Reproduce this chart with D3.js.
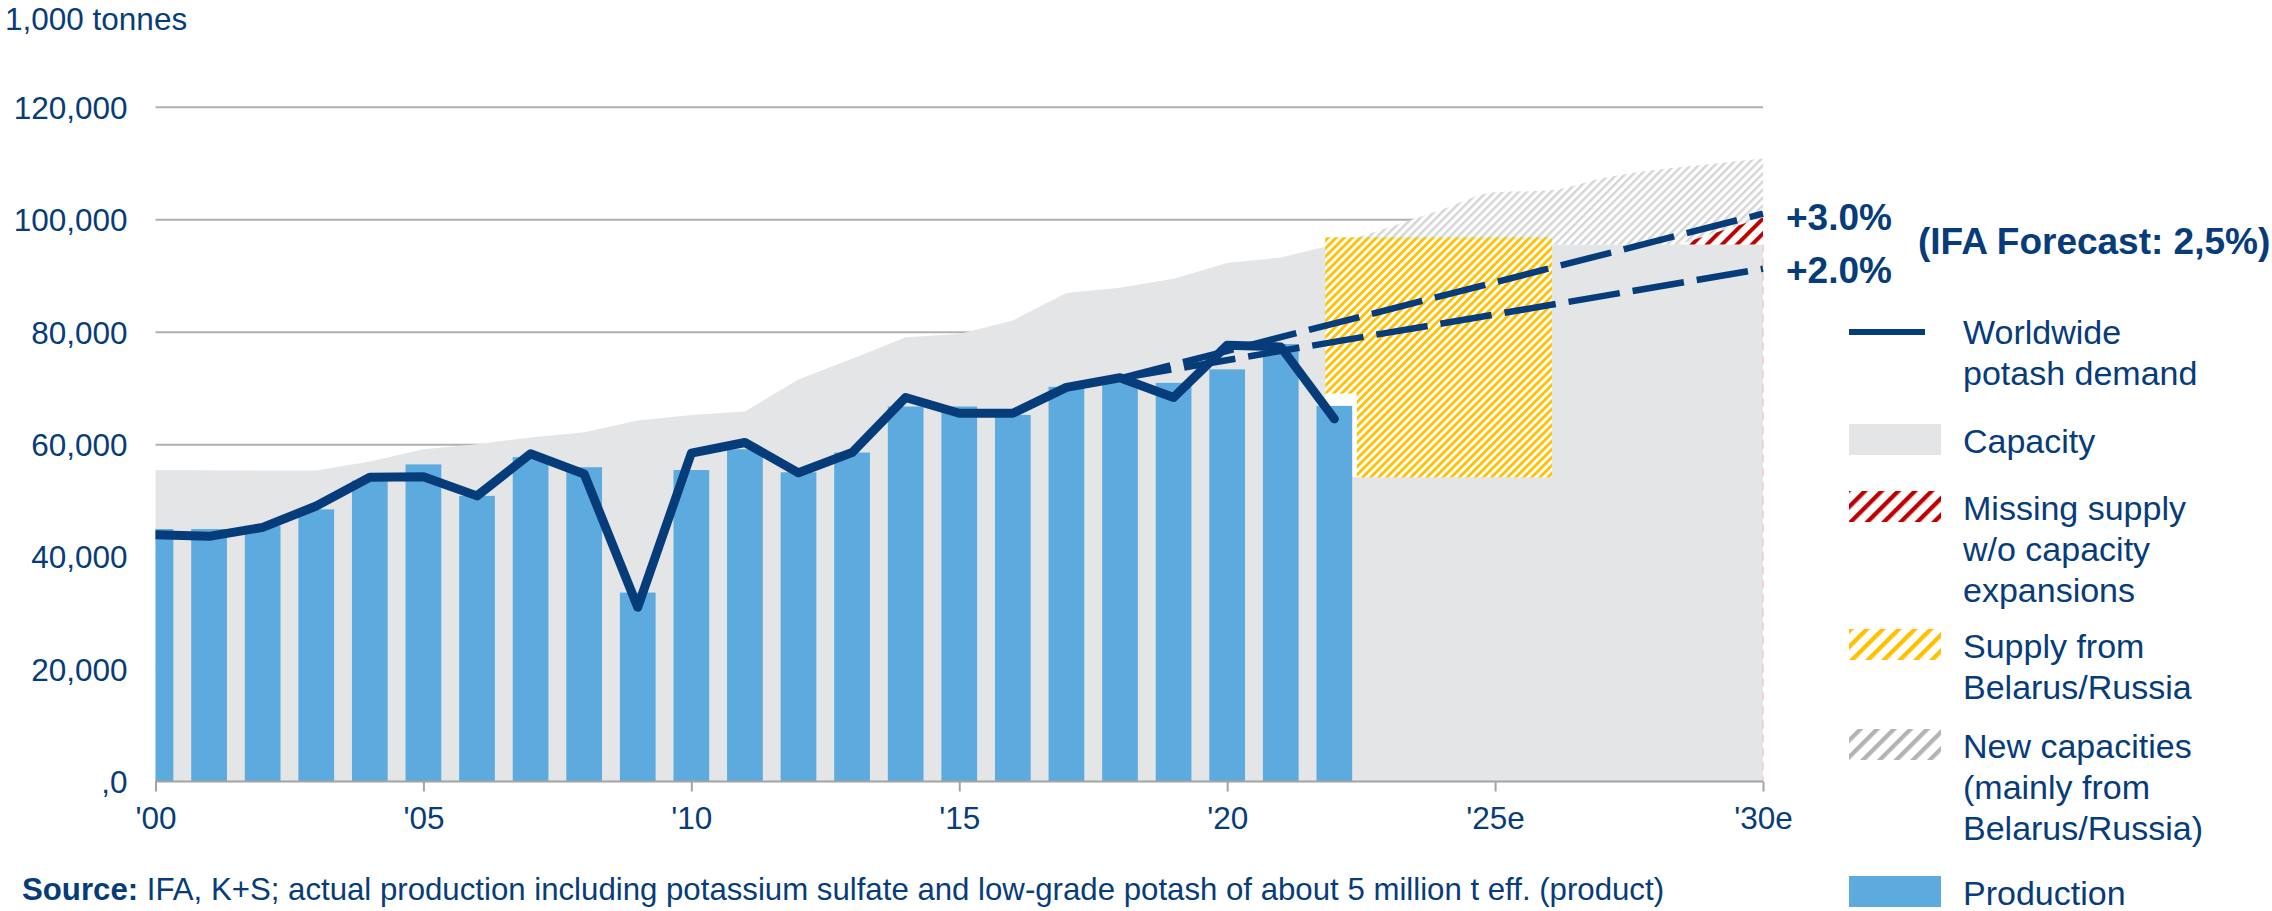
<!DOCTYPE html>
<html>
<head>
<meta charset="utf-8">
<script src="https://cdn.jsdelivr.net/npm/d3@7"></script>
<style>
  html, body { margin: 0; padding: 0; background: #ffffff; }
  svg { display: block; font-family: "Liberation Sans", Arial, sans-serif; }
</style>
</head>
<body>
<svg id="chart" width="2272" height="911"></svg>
<script>
// ---------------- DATA ----------------
const years = d3.range(2000, 2023);
const production = [44900, 44900, 45500, 48400, 53500, 56400, 50800, 57700, 55900, 33600, 55400,
                    59100, 55000, 58500, 66700, 66700, 65200, 70200, 71300, 70900, 73300, 77800, 66800];
const demand = [43900, 43600, 45200, 49000, 54100, 54200, 50800, 58300, 54700, 31000, 58400,
                60300, 54900, 58500, 68300, 65500, 65500, 70100, 71800, 68300, 77600, 77300, 64500];

const capacityYears = d3.range(2000, 2031);
const capacity = [55400, 55350, 55300, 55300, 56900, 59100, 60000, 61200, 62100, 64200, 65200,
                  65800, 71500, 75200, 79000, 79600, 82000, 86900, 87800, 89400, 92200, 93200,
                  95500, 95500, 95500, 95500, 95500, 95500, 95500, 95500, 95500];

const newCapYears = [2022, 2023, 2024, 2025, 2026, 2027, 2028, 2029, 2030];
const newCapBase  = [95500, 95500, 95500, 95500, 95500, 95500, 95500, 95500, 95500];
const newCapTop   = [95500, 98500, 101700, 104800, 105100, 107300, 108800, 109800, 110800];

const missingYears = [2028.43, 2030];
const missingLow   = [95500, 95500];
const missingHigh  = [95500, 100300];

const belarusYears = [2021.83, 2026.06];
const belarusRange = [54100, 96800];
const whitePatchYears = [2021.83, 2022.42];
const whitePatchRange = [54100, 69000];

const forecastYears = [2018, 2030];
const forecast3 = [71700, 101000];
const forecast2 = [71700, 91200];
const forecastLabels = ["+3.0%", "+2.0%"];
const ifaLabel = "(IFA Forecast: 2,5%)";

const yTickValues = [0, 20000, 40000, 60000, 80000, 100000, 120000];
const yTickLabels = [",0", "20,000", "40,000", "60,000", "80,000", "100,000", "120,000"];
const xTickValues = [2000, 2005, 2010, 2015, 2020, 2025, 2030];
const xTickLabels = ["'00", "'05", "'10", "'15", "'20", "'25e", "'30e"];

const unitLabel = "1,000 tonnes";
const sourceBold = "Source:";
const sourceText = " IFA, K+S; actual production including potassium sulfate and low-grade potash of about 5 million t eff. (product)";

const legendItems = [
  { key: "line",    lines: ["Worldwide", "potash demand"] },
  { key: "cap",     lines: ["Capacity"] },
  { key: "red",     lines: ["Missing supply", "w/o capacity", "expansions"] },
  { key: "yellow",  lines: ["Supply from", "Belarus/Russia"] },
  { key: "gray",    lines: ["New capacities", "(mainly from", "Belarus/Russia)"] },
  { key: "prod",    lines: ["Production"] }
];

// ---------------- STYLE ----------------
const NAVY = "#073C7A";
const BAR = "#5DABDE";
const CAP = "#E4E5E7";
const GRID = "#B0B0B0";
const YELLOW = "#FFC000";
const RED = "#C00000";

const svg = d3.select("#chart");
const x = d3.scaleLinear().domain([2000, 2030]).range([155.5, 1763]);
const y = d3.scaleLinear().domain([0, 120000]).range([781.5, 106.8]);
const step = x(2001) - x(2000);
const barW = step * 2 / 3;

// ---------------- PATTERNS ----------------
const defs = svg.append("defs");
function hatch(id, period, stripe, color) {
  const p = defs.append("pattern")
    .attr("id", id)
    .attr("patternUnits", "userSpaceOnUse")
    .attr("width", period).attr("height", period)
    .attr("patternTransform", "rotate(45)");
  p.append("rect").attr("width", period).attr("height", period).attr("fill", "#fff");
  p.append("rect").attr("x", 0).attr("y", 0).attr("width", stripe).attr("height", period).attr("fill", color);
}
hatch("hYellow", 5.7, 2.8, YELLOW);
hatch("hGray", 5.7, 2.4, "#D4D4D4");
hatch("hRed", 10.6, 4, RED);
hatch("lgRed", 11.8, 4.3, RED);
hatch("lgYellow", 11.3, 4.3, YELLOW);
hatch("lgGray", 11.8, 4.3, "#B3B3B3");

defs.append("clipPath").attr("id", "plotClip")
  .append("rect").attr("x", x(2000)).attr("y", 0).attr("width", x(2030) - x(2000)).attr("height", 800);

// ---------------- GRIDLINES ----------------
svg.append("g")
  .attr("transform", `translate(${x(2000)},0)`)
  .call(d3.axisRight(y).tickValues(yTickValues.filter(v => v > 0)).tickSize(x(2030) - x(2000)).tickFormat(""))
  .call(g => g.select(".domain").remove())
  .call(g => g.selectAll(".tick line").attr("stroke", GRID).attr("stroke-width", 2));

// ---------------- CAPACITY ----------------
const capData = capacityYears.map((yr, i) => ({ yr, v: capacity[i] }));
svg.append("path")
  .datum(capData)
  .attr("fill", CAP)
  .attr("d", d3.area().x(d => x(d.yr)).y0(y(0)).y1(d => y(d.v)));

// new capacities hatch
const ncData = newCapYears.map((yr, i) => ({ yr, lo: newCapBase[i], hi: newCapTop[i] }));
svg.append("path")
  .datum(ncData)
  .attr("fill", "url(#hGray)")
  .attr("d", d3.area().x(d => x(d.yr)).y0(d => y(d.lo)).y1(d => y(d.hi)).curve(d3.curveMonotoneX));

// missing supply
const msData = missingYears.map((yr, i) => ({ yr, lo: missingLow[i], hi: missingHigh[i] }));
svg.append("path")
  .datum(msData)
  .attr("fill", "url(#hRed)")
  .attr("d", d3.area().x(d => x(d.yr)).y0(d => y(d.lo)).y1(d => y(d.hi)));

// faint right border line
svg.append("line")
  .attr("x1", x(2030)).attr("x2", x(2030))
  .attr("y1", y(95500)).attr("y2", y(0))
  .attr("stroke", "#F0C6CE").attr("stroke-width", 1.5).attr("stroke-dasharray", "8,6");

// Belarus/Russia supply box
svg.append("rect")
  .attr("x", x(belarusYears[0])).attr("width", x(belarusYears[1]) - x(belarusYears[0]))
  .attr("y", y(belarusRange[1])).attr("height", y(belarusRange[0]) - y(belarusRange[1]))
  .attr("fill", "url(#hYellow)");
svg.append("rect")
  .attr("x", x(whitePatchYears[0])).attr("width", x(whitePatchYears[1]) - x(whitePatchYears[0]))
  .attr("y", y(whitePatchRange[1])).attr("height", y(whitePatchRange[0]) - y(whitePatchRange[1]))
  .attr("fill", "#fff");

// ---------------- BARS ----------------
svg.append("g").attr("clip-path", "url(#plotClip)")
  .selectAll("rect")
  .data(years.map((yr, i) => ({ yr, v: production[i] })))
  .join("rect")
  .attr("x", d => x(d.yr) - barW / 2)
  .attr("width", barW)
  .attr("y", d => y(d.v))
  .attr("height", d => y(0) - y(d.v))
  .attr("fill", BAR);

// ---------------- FORECAST LINES ----------------
[forecast3, forecast2].forEach(vals => {
  svg.append("path")
    .datum(forecastYears.map((yr, i) => ({ yr, v: vals[i] })))
    .attr("fill", "none")
    .attr("stroke", NAVY)
    .attr("stroke-width", 6.5)
    .attr("stroke-dasharray", "52,13")
    .attr("d", d3.line().x(d => x(d.yr)).y(d => y(d.v)));
});

// ---------------- DEMAND LINE ----------------
svg.append("path")
  .datum(years.map((yr, i) => ({ yr, v: demand[i] })))
  .attr("clip-path", "url(#plotClip)")
  .attr("fill", "none")
  .attr("stroke", NAVY)
  .attr("stroke-width", 9)
  .attr("stroke-linejoin", "round")
  .attr("stroke-linecap", "round")
  .attr("d", d3.line().x(d => x(d.yr)).y(d => y(d.v)));

// ---------------- AXES ----------------
const xAxis = svg.append("g")
  .attr("transform", `translate(0,${y(0)})`)
  .call(d3.axisBottom(x).tickValues(xTickValues).tickSize(10).tickPadding(15)
        .tickFormat((d, i) => xTickLabels[i]));
xAxis.select(".domain").attr("stroke", "#A3A3A3").attr("stroke-width", 2)
  .attr("d", `M${x(2000)},0V0H${x(2030)}V0`);
xAxis.selectAll(".tick line").attr("stroke", "#A3A3A3").attr("stroke-width", 2);
xAxis.selectAll(".tick text").attr("fill", NAVY).attr("font-size", 31.5)
  .attr("font-family", "Liberation Sans, Arial, sans-serif");

const yAxis = svg.append("g")
  .attr("transform", `translate(${x(2000)},0)`)
  .call(d3.axisLeft(y).tickValues(yTickValues).tickSize(0).tickPadding(28)
        .tickFormat((d, i) => yTickLabels[i]));
yAxis.select(".domain").remove();
yAxis.selectAll(".tick text").attr("fill", NAVY).attr("font-size", 31.5).attr("dy", "0.36em")
  .attr("font-family", "Liberation Sans, Arial, sans-serif");

// unit label
svg.append("text").attr("x", 5).attr("y", 30).attr("fill", NAVY).attr("font-size", 31.5).text(unitLabel);

// source
const src = svg.append("text").attr("x", 22).attr("y", 900).attr("fill", NAVY).attr("font-size", 31.2);
src.append("tspan").attr("font-weight", "bold").text(sourceBold);
src.append("tspan").text(sourceText);

// forecast labels
svg.append("text").attr("x", 1786).attr("y", 230).attr("fill", NAVY).attr("font-size", 37)
  .attr("font-weight", "bold").text(forecastLabels[0]);
svg.append("text").attr("x", 1786).attr("y", 283).attr("fill", NAVY).attr("font-size", 37)
  .attr("font-weight", "bold").text(forecastLabels[1]);
svg.append("text").attr("x", 1918).attr("y", 254).attr("fill", NAVY).attr("font-size", 37)
  .attr("font-weight", "bold").text(ifaLabel);

// ---------------- LEGEND ----------------
const lg = svg.append("g");
const swX = 1849, swW = 92, swH = 31, txX = 1963, lineH = 41;
const legendTop = { line: 344, cap: 453, red: 520, yellow: 658, gray: 758, prod: 905 };
legendItems.forEach(item => {
  const base = legendTop[item.key];
  if (item.key === "line") {
    lg.append("line").attr("x1", swX).attr("x2", 1925).attr("y1", 332).attr("y2", 332)
      .attr("stroke", NAVY).attr("stroke-width", 6);
  } else {
    const fills = { cap: CAP, red: "url(#lgRed)", yellow: "url(#lgYellow)", gray: "url(#lgGray)", prod: BAR };
    lg.append("rect").attr("x", swX).attr("y", base - 29).attr("width", swW).attr("height", swH)
      .attr("fill", fills[item.key]);
  }
  const t = lg.append("text").attr("fill", NAVY).attr("font-size", 34);
  item.lines.forEach((ln, i) => {
    t.append("tspan").attr("x", txX).attr("y", base + i * lineH).text(ln);
  });
});
</script>
</body>
</html>
